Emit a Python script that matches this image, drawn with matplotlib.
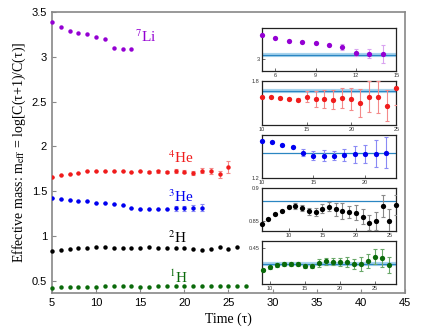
import numpy as np
import matplotlib
matplotlib.use('Agg')
import matplotlib.pyplot as plt
from matplotlib.ticker import FormatStrFormatter

plt.rcParams['mathtext.fontset'] = 'stix'
plt.rcParams['font.family'] = ['Liberation Sans', 'DejaVu Sans']

# ---- data ----
li_t = np.arange(5, 15)
li_m = np.array([3.385, 3.334, 3.291, 3.271, 3.254, 3.220, 3.195, 3.099, 3.089, 3.085])
li_err = np.array([0, 0, 0, 0, 0, 0, 0.045, 0.055, 0.074, 0.145])

he4_t = np.arange(5, 26)
he4_m = np.array([1.655, 1.681, 1.692, 1.706, 1.722, 1.727, 1.730, 1.724, 1.720, 1.716,
                  1.730, 1.718, 1.720, 1.715, 1.724, 1.718, 1.701, 1.730, 1.727, 1.688, 1.772])
he4_err = np.array([0, 0, 0, 0, 0, 0.004, 0.004, 0.005, 0.005, 0.006,
                    0.026, 0.037, 0.041, 0.044, 0.046, 0.051, 0.064, 0.070, 0.075, 0.074, 0.08])
he4_err_main = np.array([0, 0, 0, 0, 0, 0, 0, 0, 0, 0,
                         0, 0.01, 0.015, 0.015, 0.02, 0.02, 0.025, 0.03, 0.03, 0.04, 0.07])

he3_t = np.arange(5, 23)
he3_m = np.array([1.428, 1.416, 1.405, 1.394, 1.387, 1.373, 1.366, 1.352, 1.345, 1.316,
                  1.303, 1.302, 1.303, 1.305, 1.308, 1.310, 1.311, 1.316])
he3_err = np.array([0, 0, 0, 0, 0, 0.003, 0.003, 0.004, 0.004, 0.016,
                    0.019, 0.026, 0.021, 0.029, 0.039, 0.042, 0.063, 0.072])
he3_err_main = np.array([0, 0, 0, 0, 0, 0, 0, 0, 0, 0,
                         0, 0, 0, 0, 0.025, 0.028, 0.035, 0.04])

h2_t = np.arange(5, 27)
h2_m = np.array([0.835, 0.847, 0.854, 0.861, 0.866, 0.872, 0.873, 0.870, 0.865, 0.864, 0.869,
                 0.872, 0.868, 0.866, 0.864, 0.863, 0.857, 0.848, 0.851, 0.873, 0.850, 0.874])
h2_err = np.array([0, 0.001, 0.001, 0.001, 0.001, 0.002, 0.004, 0.004, 0.005, 0.006, 0.007,
                   0.007, 0.010, 0.012, 0.009, 0.011, 0.011, 0.011, 0.013, 0.016, 0.018, 0.015])

h1_t = np.arange(5, 28)
h1_m = np.array([0.420, 0.425, 0.428, 0.430, 0.4317, 0.434, 0.436, 0.437, 0.4368, 0.4368,
                 0.4353, 0.435, 0.4378, 0.439, 0.4388, 0.4383, 0.4385, 0.437, 0.4368, 0.4393,
                 0.443, 0.4418, 0.4357])
h1_err = np.array([0, 0, 0, 0, 0.001, 0.001, 0.0015, 0.0015, 0.0015, 0.0015,
                   0.0015, 0.0015, 0.0035, 0.0032, 0.003, 0.0035, 0.0042, 0.0044, 0.0058, 0.006,
                   0.006, 0.0077, 0.0067])

# plateau fits shown in the insets
fit_m = [3.074, 1.755, 1.315, 0.880, 0.437]

names = [r'$^{7}$Li', r'$^{4}$He', r'$^{3}$He', r'$^{2}$H', r'$^{1}$H']
colors = ['#9400d3', '#f01c1c', '#0000f0', 'black', '#0a6a0a']
err_colors = ['#d9a3f0', '#f48a8a', '#8a8af5', '#888888', '#6aa86a']

fig = plt.figure(figsize=(4.24, 3.32), dpi=100)
W, H = 424, 332
ax = fig.add_axes([52 / W, 1 - 293 / H, 353 / W, 281 / H])

series = [(li_t, li_m, None), (he4_t, he4_m, he4_err_main), (he3_t, he3_m, he3_err_main),
          (h2_t, h2_m, None), (h1_t, h1_m, None)]
for (t, m, e), c, ec in zip(series, colors, err_colors):
    if e is None:
        ax.plot(t, m, 'o', color=c, ms=3.2, mec='none', clip_on=False, zorder=3)
    else:
        ax.errorbar(t, m, yerr=e, fmt='o', color=c, ms=3.2, mec='none', ecolor=ec,
                    elinewidth=0.8, capsize=1.5, capthick=0.8, zorder=3)

# labels next to the curves
label_pos = [(14.4, 3.169), (18.1, 1.815), (18.1, 1.383), (18.1, 0.919), (18.3, 0.471)]
for (x, y), s, c in zip(label_pos, names, colors):
    ax.text(x, y, s, color=c, fontsize=11, family='Liberation Serif', va='baseline', ha='left')

ax.set_xlim(5, 45)
ax.set_ylim(0.363, 3.5)
ax.set_xticks(np.arange(5, 46, 5))
ax.set_yticks(np.arange(0.5, 3.51, 0.5))
ax.yaxis.set_major_formatter(FormatStrFormatter('%g'))
ax.tick_params(direction='in', length=3, color='#888888', labelsize=8, width=0.8)
for sp in ax.spines.values():
    sp.set_color('#888888')
    sp.set_linewidth(1.2)
ax.set_xlabel('Time (τ)', family='Liberation Serif', fontsize=10, labelpad=3)
ax.set_ylabel(r'Effective mass: m$_{\rm eff}$ = log[C(τ+1)/C(τ)]', family='Liberation Serif',
              fontsize=10, labelpad=3)

# ---- insets ----
inset_xlim = [(5, 15), (10, 25), (10, 23), (6, 26), (8.86, 28)]
inset_ylim = [(2.81, 3.486), (1.6, 1.8), (1.2, 1.4), (0.836, 0.9), (0.420, 0.456)]
inset_show = [(5, 14), (10, 25), (10, 22), (6, 26), (9, 27)]
inset_xticks = [[6, 9, 12, 15], [10, 15, 20, 25], [10, 15, 20], [10, 15, 20, 25], [10, 15, 20, 25]]
inset_yticks = [[3], [1.8], [1.2], [0.85, 0.9], [0.45]]
inset_err = [li_err, he4_err, he3_err, h2_err, h1_err]
band = [True, True, False, False, True]

for i in range(5):
    t, m, _ = series[i]
    top = 28.3 + 53.2 * i
    iax = fig.add_axes([261.7 / W, 1 - (top + 43) / H, 134.5 / W, 43 / H])
    lo, hi = inset_show[i]
    sel = (t >= lo) & (t <= hi)
    if band[i]:
        iax.axhline(fit_m[i], color='#a8d4ee', lw=3, zorder=1)
    iax.axhline(fit_m[i], color='#2b86c2', lw=0.9, zorder=2)
    cont = iax.errorbar(t[sel], m[sel], yerr=inset_err[i][sel], fmt='o', color=colors[i],
                        ms=3.8, mec='none', ecolor=err_colors[i], elinewidth=0.8,
                        capsize=1.6, capthick=0.8, zorder=3)
    cont.lines[0].set_clip_on(False)
    iax.set_xlim(*inset_xlim[i])
    iax.set_ylim(*inset_ylim[i])
    iax.set_xticks(inset_xticks[i])
    iax.set_yticks(inset_yticks[i])
    iax.yaxis.set_major_formatter(FormatStrFormatter('%g'))
    iax.tick_params(direction='in', length=2.5, width=0.5, labelsize=4, pad=1.5,
                    colors='#333333')
    for sp in iax.spines.values():
        sp.set_color('#222222')
        sp.set_linewidth(0.9)

fig.savefig('out.png', dpi=100)
